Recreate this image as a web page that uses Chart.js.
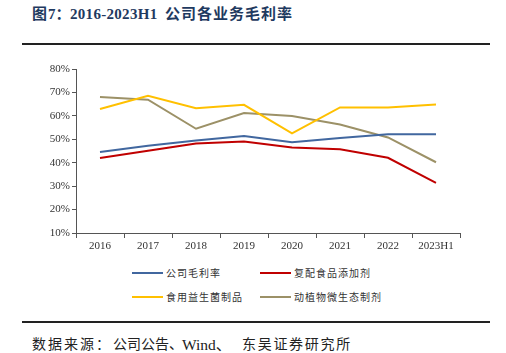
<!DOCTYPE html>
<html>
<head>
<meta charset="utf-8">
<script src="https://cdn.jsdelivr.net/npm/chart.js@4"></script>
<style>
  body { margin: 0; width: 506px; height: 353px; background: #fff; position: relative; overflow: hidden; }
  .title span { position: absolute; top: 5px; font: bold 15px/18px "Liberation Serif", "Noto Sans CJK SC"; color: #1f3a60; white-space: nowrap; }
  .title span.cjk { letter-spacing: 1px; }
  .rule { position: absolute; left: 22px; width: 468px; height: 2px; background: #222; }
  #wrap { position: absolute; left: 0; top: 55px; width: 490px; height: 203px; }
  .legend { position: absolute; font: 10px "Noto Sans CJK SC"; letter-spacing: 1px; color: #333; white-space: nowrap; }
  .legend span.line { display: inline-block; width: 31px; height: 2px; vertical-align: middle; margin-right: 3px; position: relative; top: -1px; }
  .source span { position: absolute; top: 336px; font: 14px/18px "Liberation Serif", "Noto Sans CJK SC"; color: #222; white-space: nowrap; }
</style>
</head>
<body>
<div class="title">
  <span class="cjk" style="left:32px">图</span>
  <span style="left:48px">7：</span>
  <span style="left:70px; letter-spacing:0.3px">2016-2023H1</span>
  <span class="cjk" style="left:165px">公司各业务毛利率</span>
</div>
<div class="rule" style="top:43px"></div>
<div id="wrap"><canvas id="chart"></canvas></div>
<div id="legend"></div>
<div class="rule" style="top:321px"></div>
<div class="source">
  <span style="left:32px; letter-spacing:2px">数据来源：</span>
  <span style="left:113px; letter-spacing:0">公司公告、</span>
  <span style="left:182px; font-size:15.5px">Wind、</span>
  <span style="left:242px; letter-spacing:1.7px">东吴证券研究所</span>
</div>
<script>
const years = ['2016', '2017', '2018', '2019', '2020', '2021', '2022', '2023H1'];
const gross = [44.6, 47.2, 49.5, 51.4, 48.7, 50.6, 52.1, 52.1];
const additive = [42.0, 45.1, 48.2, 49.1, 46.5, 45.7, 42.1, 31.4];
const probiotic = [62.9, 68.6, 63.3, 64.7, 52.5, 63.6, 63.6, 64.9];
const microeco = [68.0, 66.9, 54.5, 61.2, 59.9, 56.3, 50.8, 40.2];
const seriesNames = ['公司毛利率', '复配食品添加剂', '食用益生菌制品', '动植物微生态制剂'];
const seriesColors = ['#41679f', '#c00000', '#ffc000', '#9c9167'];

const datasets = [gross, additive, probiotic, microeco].map((d, i) => ({
    label: seriesNames[i],
    data: d,
    borderColor: seriesColors[i],
    backgroundColor: seriesColors[i],
    borderWidth: 2,
    pointRadius: 0,
    tension: 0
}));

new Chart(document.getElementById('chart'), {
    type: 'line',
    data: { labels: years, datasets: datasets },
    options: {
        responsive: true,
        maintainAspectRatio: false,
        animation: false,
        layout: { padding: { top: 14, right: 30, left: 0, bottom: 0 } },
        plugins: { legend: { display: false }, tooltip: { enabled: false } },
        scales: {
            x: {
                offset: true,
                grid: { offset: true, drawOnChartArea: false, drawTicks: true, tickLength: 5, color: '#555' },
                border: { color: '#555', width: 1 },
                ticks: { color: '#333', font: { family: 'Liberation Serif', size: 11 }, padding: 2, maxRotation: 0 },
                afterFit: s => { s.height = 25; }
            },
            y: {
                min: 10, max: 80,
                grid: { drawOnChartArea: false, drawTicks: true, tickLength: 4, color: '#555' },
                border: { color: '#555', width: 1 },
                ticks: { stepSize: 10, color: '#333', font: { family: 'Liberation Serif', size: 11 }, padding: 2,
                         callback: v => v + '%' },
                afterFit: s => { s.width = 76; }
            }
        }
    }
});

// legend, 2 x 2 like the reference
const legendPos = [[132, 265], [260, 265], [132, 289], [260, 289]];
const lg = document.getElementById('legend');
seriesNames.forEach((n, i) => {
    const el = document.createElement('div');
    el.className = 'legend';
    el.style.left = legendPos[i][0] + 'px';
    el.style.top = legendPos[i][1] + 'px';
    el.innerHTML = '<span class="line" style="background:' + seriesColors[i] + '"></span>' + n;
    lg.appendChild(el);
});
</script>
</body>
</html>
